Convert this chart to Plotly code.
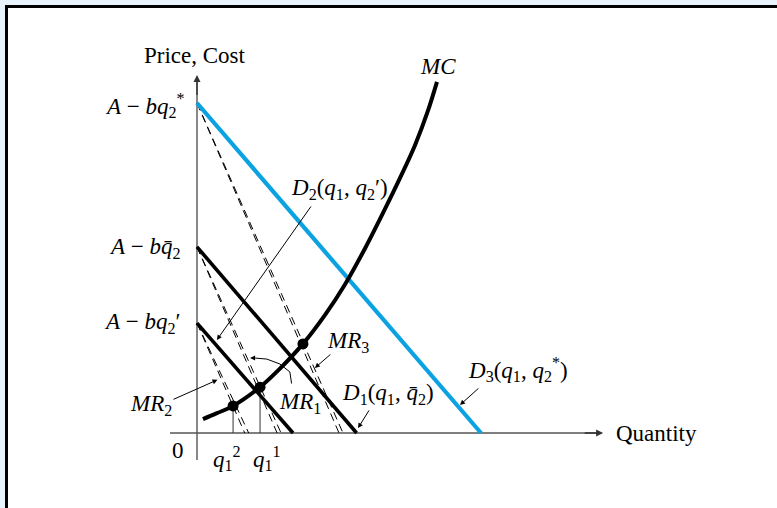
import plotly.graph_objects as go

# ---------------- data (economic units; origin at the axes' corner) ----------------
d3_q = [0.0, 10.0]; d3_p = [10.0, 0.0]      # D3(q1, q2*)
d1_q = [0.0, 5.62]; d1_p = [5.64, 0.0]      # D1(q1, q̄2)
d2_q = [0.0, 3.38]; d2_p = [3.33, 0.0]      # D2(q1, q2')

mr3_q = [0.0, 5.0]; mr3_p = [10.0, 0.0]
mr1_q = [0.0, 2.82]; mr1_p = [5.64, 0.0]
mr2_q = [0.0, 1.68]; mr2_p = [3.33, 0.0]
mr_offset = 0.14

mc_q = [0.21, 0.70, 1.27, 2.22, 2.92, 3.73, 4.51, 5.21, 5.92, 6.62, 7.15, 7.68, 8.13, 8.45]
mc_p = [0.42, 0.60, 0.82, 1.39, 1.95, 2.70, 3.58, 4.50, 5.60, 6.79, 7.73, 8.73, 9.76, 10.64]

eq_q = [1.27, 2.22, 3.73]
eq_p = [0.82, 1.39, 2.70]

arc_q = [3.33, 3.27, 2.92, 2.46, 2.05]
arc_p = [1.50, 1.85, 2.09, 2.24, 2.27]

FONT = "Liberation Serif"
FS = 23
NB = "\u00a0"
I = lambda s: "<i>" + s + "</i>"

fig = go.Figure()

def line(q, p, color="black", width=3.6, dash="solid"):
    fig.add_trace(go.Scatter(x=q, y=p, mode="lines", hoverinfo="skip",
                             line=dict(color=color, width=width, dash=dash)))

# axes
line([0, 0], [-0.82, 10.75], color="#555555", width=1.4)
line([-0.95, 14.2], [0, 0], color="#555555", width=1.4)

# MR dashed lines (drawn as thin double dashes)
for q, p in [(mr3_q, mr3_p), (mr1_q, mr1_p), (mr2_q, mr2_p)]:
    line(q, p, width=1, dash="8px,5px")
    line([q[0], q[1] + mr_offset], p, width=1, dash="8px,5px")

# vertical drop lines
line([eq_q[0], eq_q[0]], [0, eq_p[0]], color="#333333", width=1)
line([eq_q[1], eq_q[1]], [0, eq_p[1]], color="#333333", width=1)

# demand lines
line(d3_q, d3_p, color="#0ba2e2", width=4.2)
line(d1_q, d1_p, width=3.6)
line(d2_q, d2_p, width=3.6)

# MC curve
fig.add_trace(go.Scatter(x=mc_q, y=mc_p, mode="lines", hoverinfo="skip",
                         line=dict(color="black", width=4, shape="spline", smoothing=1.0)))
# equilibrium dots
fig.add_trace(go.Scatter(x=eq_q, y=eq_p, mode="markers", hoverinfo="skip",
                         marker=dict(color="black", size=11)))
# arc arrow for MR1
line(arc_q, arc_p, width=1)

anns = []
def arrow(x, y, ax, ay, color="black", w=1, head=2, size=1.0):
    anns.append(dict(x=x, y=y, ax=ax, ay=ay, xref="x", yref="y", axref="x", ayref="y",
                     text="", showarrow=True, arrowhead=head, arrowsize=size,
                     arrowwidth=w, arrowcolor=color))

# axis arrowheads
arrow(0, 10.85, 0, 10.2, color="#333333", w=1.4, size=1.0)
arrow(14.3, 0, 13.6, 0, color="#333333", w=1.4, size=1.0)
# label arrows
arrow(0.70, 2.82, 4.05, 6.91)     # D2
arrow(0.72, 1.61, -0.88, 1.00)    # MR2
arrow(1.87, 2.27, 2.1, 2.27)      # MR1 arc head
arrow(4.15, 1.97, 4.75, 2.42)     # MR3
arrow(5.67, 0.15, 6.09, 0.73)     # D1
arrow(9.26, 0.85, 9.96, 1.39)     # D3

def text(x, y, s, xanchor="center", yanchor="middle", size=FS):
    anns.append(dict(x=x, y=y, xref="x", yref="y", text=s, showarrow=False,
                     xanchor=xanchor, yanchor=yanchor,
                     font=dict(family=FONT, size=size, color="black")))

MINUS = NB + "−" + NB
text(-0.07, 11.45, "Price, Cost")
text(8.49, 11.12, I("MC"))
text(-0.35, 9.91, I("A") + MINUS + I("bq") + "<sub>2</sub><sup>*</sup>", xanchor="right")
text(-0.49, 5.60, I("A") + MINUS + I("b") + I("q\u0304") + "<sub>2</sub>", xanchor="right")
text(-0.49, 3.33, I("A") + MINUS + I("bq") + "<sub>2</sub>′", xanchor="right")
text(5.0, 7.39, I("D") + "<sub>2</sub>(" + I("q") + "<sub>1</sub>, " + I("q") + "<sub>2</sub>′)")
text(5.32, 2.76, I("MR") + "<sub>3</sub>")
text(3.63, 0.91, I("MR") + "<sub>1</sub>")
text(6.73, 1.18, I("D") + "<sub>1</sub>(" + I("q") + "<sub>1</sub>, " + I("q\u0304") + "<sub>2</sub>)")
text(11.3, 1.91, I("D") + "<sub>3</sub>(" + I("q") + "<sub>1</sub>, " + I("q") + "<sub>2</sub><sup>*</sup>)")
text(-1.62, 0.85, I("MR") + "<sub>2</sub>")
text(14.68, 0.0, "Quantity", xanchor="left")
text(-0.67, -0.52, "0")
text(1.06, -0.76, I("q") + "<sub>1</sub><sup>2</sup>")
text(2.46, -0.76, I("q") + "<sub>1</sub><sup>1</sup>")

# axis ranges map units to the pixel layout
sx, sy = 28.4, 33.0
x0px, y0px = 197.0, 433.0
W, H = 777, 508
xr = [(0 - x0px) / sx, (W - x0px) / sx]
yr = [(y0px - H) / sy, y0px / sy]

fig.update_layout(
    width=W, height=H,
    margin=dict(l=0, r=0, t=0, b=0),
    paper_bgcolor="#e9f3fc",
    plot_bgcolor="rgba(0,0,0,0)",
    showlegend=False,
    xaxis=dict(range=xr, visible=False, fixedrange=True),
    yaxis=dict(range=yr, visible=False, fixedrange=True),
    annotations=anns,
    shapes=[dict(type="rect", xref="paper", yref="paper", layer="below",
                 x0=6.5 / W, x1=1.2, y0=-0.2, y1=1 - 6.5 / H,
                 fillcolor="white", line=dict(color="black", width=3))],
    font=dict(family=FONT),
)

fig.write_html("out.html", config={"displayModeBar": False},
               post_script="document.body.style.margin='0px';document.body.style.overflow='hidden';")
